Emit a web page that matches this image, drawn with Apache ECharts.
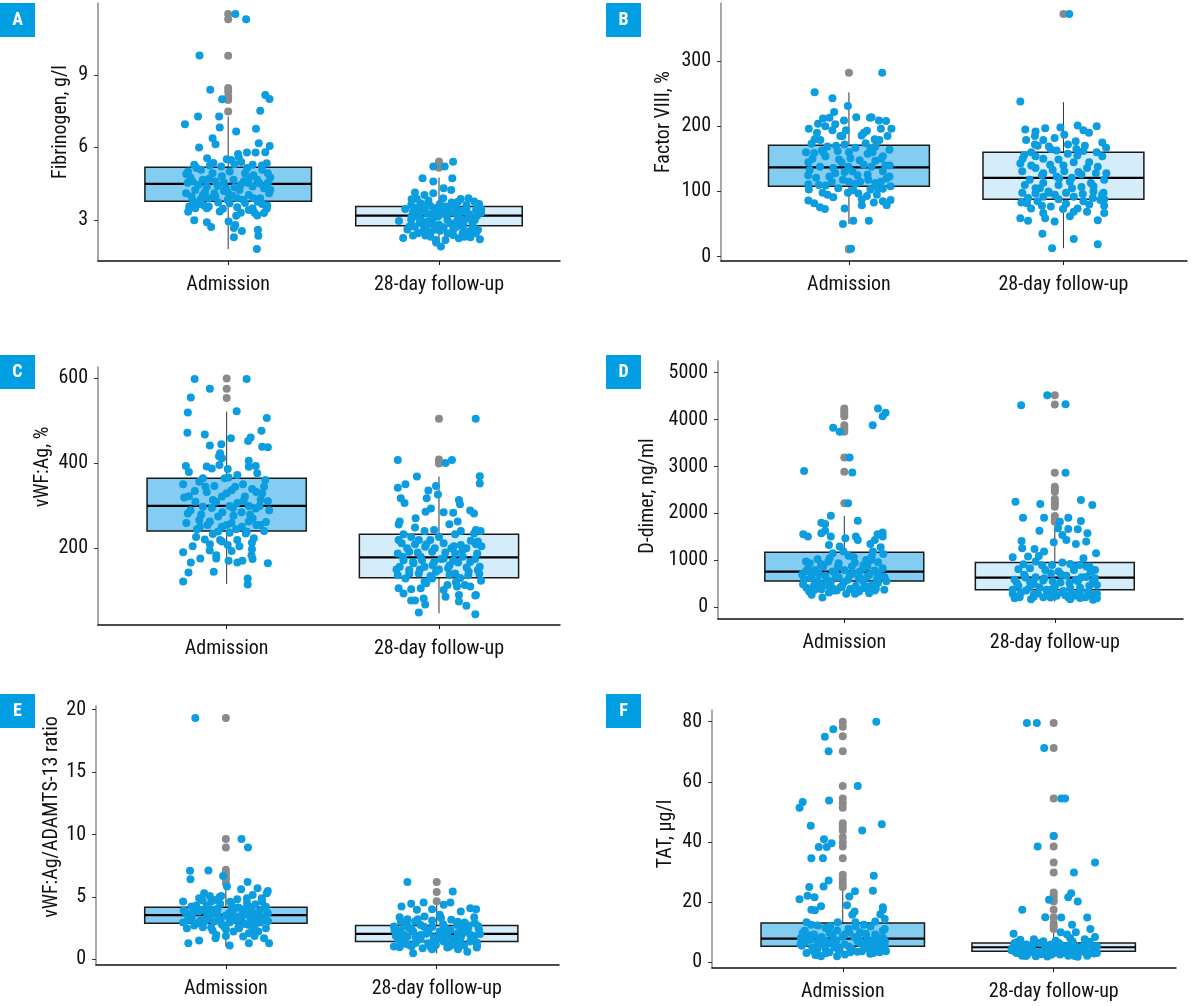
<!DOCTYPE html>
<html><head><meta charset="utf-8">
<script src="https://cdn.jsdelivr.net/npm/echarts@6/dist/echarts.min.js"></script>
<style>html,body{margin:0;padding:0;background:#fff}#c{width:1198px;height:1006px}</style>
</head><body><div id="c"></div>
<script>
// ---------- DATA ----------
const categories = ['Admission', '28-day follow-up'];
const panelTags = ['A','B','C','D','E','F'];
const axisNames = ['Fibrinogen, g/l','Factor VIII, %','vWF:Ag, %','D-dimer, ng/ml','vWF:Ag/ADAMTS-13 ratio','TAT, \u00b5g/l'];

const fibTicks = [3, 6, 9];
const f8Ticks = [0, 100, 200, 300];
const vwfTicks = [200, 400, 600];
const ddTicks = [0, 1000, 2000, 3000, 4000, 5000];
const ratioTicks = [0, 5, 10, 15, 20];
const tatTicks = [0, 20, 40, 60, 80];

// box stats: [lower whisker, Q1, median, Q3, upper whisker]
const fibAdmBox = [1.79, 3.77, 4.49, 5.18, 7.27];
const fibFupBox = [1.9, 2.76, 3.18, 3.55, 4.75];
const f8AdmBox = [50, 108, 137, 171, 252];
const f8FupBox = [13, 88, 121, 160, 237];
const vwfAdmBox = [116, 241, 300, 365, 522];
const vwfFupBox = [47, 131, 179, 233, 369];
const ddAdmBox = [234, 566, 765, 1175, 1947];
const ddFupBox = [127, 375, 637, 956, 1664];
const ratioAdmBox = [1.02, 2.89, 3.53, 4.17, 5.83];
const ratioFupBox = [0.48, 1.42, 2.03, 2.7, 4.63];
const tatAdmBox = [2.0, 5.3, 7.85, 13.1, 23.9];
const tatFupBox = [1.4, 3.7, 5.0, 6.4, 9.7];

// outliers (grey, drawn at the category centre)
const fibAdmOut = [11.51, 11.3, 9.79, 8.45, 8.31, 8.1, 7.96, 7.48];
const fibFupOut = [5.41, 5.3, 5.16];
const f8AdmOut = [282, 11, 12];
const f8FupOut = [372];
const vwfAdmOut = [600, 576, 554];
const vwfFupOut = [505, 409, 404, 400];
const ddAdmOut = [4234, 4184, 4128, 4071, 3880, 3809, 3738, 3193, 2889, 2216];
const ddFupOut = [4517, 4319, 2867, 2570, 2513, 2464, 2308, 2251, 2195, 2145, 1947, 1883, 1827];
const ratioAdmOut = [19.33, 9.63, 8.96, 7.17, 6.9, 6.6, 6.4, 6.1];
const ratioFupOut = [6.2, 5.4, 4.65];
const tatAdmOut = [80, 78.3, 75.2, 70.2, 58.6, 54.5, 52.9, 51.4, 46.2, 45.1, 43.8, 41.6, 39.8, 38.5, 34.6, 29.1, 27.7, 26.3, 25];
const tatFupOut = [79.6, 71.3, 54.5, 42, 38.5, 33.2, 29.9, 23.2, 22.1, 21.1, 20.2, 17.5, 15, 13.1, 12, 11.1];

// jittered individual values: [horizontal jitter (category units), value]
const fibAdmPts = [[0.034,11.51],[0.085,11.3],[-0.136,9.8],[-0.085,8.38],[-0.029,7.99],[0.176,8.17],[0.196,8.0],[0.152,7.51],[-0.143,7.28],[-0.043,7.28],[-0.205,6.96],[-0.04,6.82],[0.132,6.77],[0.038,6.66],[-0.074,6.38],[-0.06,6.13],[-0.138,5.99],[0.145,6.17],[0.197,6.06],[0.176,5.8],[0.089,5.79],[0.047,5.73],[0.13,5.79],[-0.007,5.51],[0.014,5.48],[0.062,5.39],[0.116,5.28],[0.183,5.34],[-0.161,5.28],[-0.087,5.25],[-0.033,5.21],[-0.199,4.9],[-0.129,5.07],[-0.074,4.93],[0.007,5.0],[0.08,4.93],[0.161,5.07],[0.188,4.93],[-0.192,4.54],[-0.12,4.66],[-0.06,4.59],[0.025,4.66],[0.094,4.54],[0.138,4.66],[0.188,4.54],[-0.156,4.24],[-0.101,4.38],[-0.011,4.31],[0.053,4.24],[0.116,4.38],[0.17,4.31],[-0.174,3.97],[-0.12,4.03],[-0.065,4.1],[-0.002,4.13],[0.043,3.9],[0.098,4.03],[0.152,3.9],[0.194,4.1],[-0.165,3.76],[-0.138,3.66],[-0.092,3.55],[-0.047,3.72],[0.007,3.69],[0.071,3.83],[0.116,3.48],[0.161,3.66],[-0.156,3.48],[-0.025,3.46],[0.043,3.52],[0.098,3.41],[0.183,3.46],[-0.19,3.34],[-0.101,3.48],[0.125,3.3],[0.17,3.28],[-0.161,2.99],[0.002,2.93],[0.034,2.79],[-0.101,2.9],[-0.081,2.71],[0.027,2.66],[0.065,2.54],[0.141,2.59],[0.143,2.34],[0.027,2.28],[0.136,1.8],[0.038,3.17],[0.138,3.18],[-0.002,3.83],[-0.092,3.9],[-0.18,4.75],[0.06,4.45],[-0.03,4.8],[0.12,4.85],[-0.11,4.15],[0.075,4.6],[-0.05,4.4],
  [-0.17,4.6],[-0.14,4.45],[-0.09,4.7],[-0.02,4.55],[0.03,4.35],[0.1,4.75],[0.15,4.5],[0.2,4.25],[-0.2,4.1],[-0.13,3.85],[-0.06,3.95],[0.02,4.0],[0.08,3.7],[0.14,3.75],[0.185,3.6],[-0.185,3.55],[-0.115,3.6],[-0.04,3.35],[0.06,3.3],[0.12,3.9],[-0.15,5.15],[-0.07,5.35],[0.03,5.3],[0.09,5.15],[0.16,5.25],[-0.1,5.55],[0.05,5.6],[-0.19,5.0],[0.2,4.75],[-0.02,4.2]];
const fibFupPts = [[0.067,5.4],[-0.027,5.21],[0.027,5.21],[0.063,4.72],[-0.078,4.72],[-0.027,4.59],[0.022,4.31],[0.058,4.24],[-0.114,4.13],[-0.069,4.03],[-0.027,4.1],[-0.105,3.86],[0.103,3.86],[0.167,3.76],[-0.132,3.62],[-0.087,3.69],[-0.042,3.58],[0.004,3.66],[0.049,3.55],[0.13,3.62],[0.19,3.66],[-0.123,3.34],[-0.078,3.41],[-0.024,3.34],[0.022,3.41],[0.076,3.28],[0.121,3.34],[0.176,3.41],[-0.132,3.0],[-0.091,3.07],[-0.051,2.93],[-0.005,3.14],[0.04,3.0],[0.085,2.93],[0.139,3.07],[0.181,3.17],[-0.114,2.72],[-0.069,2.66],[-0.024,2.59],[0.022,2.7],[0.067,2.59],[0.112,2.72],[0.158,2.59],[-0.123,2.35],[-0.065,2.35],[-0.014,2.17],[0.031,2.17],[0.094,2.24],[0.149,2.28],[0.194,2.2],[0.009,1.9],[-0.014,2.06],[-0.096,3.28],[0.013,3.25],[0.094,3.21],[0.158,2.89],[0.067,2.38],[0.112,2.45],[-0.141,2.72],[-0.033,2.86],[0.185,2.59],[-0.078,2.52],[-0.109,3.5],[-0.055,3.25],[-0.011,3.5],[0.036,3.2],[0.08,3.55],[0.145,3.22],[0.11,3.0],[0.055,2.85],[0.004,2.55],[-0.042,2.48],[-0.091,2.88],[0.2,3.45],[0.175,2.45],[0.14,2.52],[-0.13,3.15],[-0.065,3.6],[0.06,3.72],[0.1,3.38],
  [-0.16,3.45],[-0.12,3.15],[-0.07,3.35],[-0.03,3.05],[0.01,3.4],[0.05,3.3],[0.09,3.1],[0.13,3.45],[0.17,3.0],[0.2,3.3],[-0.19,2.95],[-0.15,2.6],[-0.1,2.45],[-0.06,2.75],[0.0,2.8],[0.04,2.45],[0.08,2.7],[0.12,2.3],[0.16,2.75],[-0.13,3.85],[-0.05,3.8],[0.02,3.9],[0.09,3.75],[0.14,3.9],[-0.17,2.25],[-0.04,2.3],[0.18,3.6],[-0.085,3.0],[0.115,2.85],[0.03,3.55]];

const f8AdmPts = [[0.155,282],[-0.16,252],[-0.077,243],[-0.005,231],[-0.069,222],[0.034,214],[0.098,213],[0.105,214],[-0.121,212],[-0.091,213],[-0.023,209],[0.14,209],[0.173,208],[-0.144,204],[-0.064,203],[-0.187,196],[0.198,196],[0.149,196],[-0.077,194],[-0.014,194],[0.084,193],[-0.149,190],[0.059,186],[-0.133,179],[0.142,179],[-0.174,173],[-0.02,172],[-0.1,169],[0.123,169],[0.03,167],[0.189,164],[-0.052,162],[-0.162,159],[0.087,158],[-0.109,154],[0.158,154],[0.007,151],[-0.189,145],[-0.034,145],[0.123,147],[0.069,141],[-0.135,138],[-0.073,136],[-0.183,133],[0.016,131],[0.158,131],[0.087,126],[-0.091,123],[-0.153,121],[0.189,123],[-0.028,118],[0.052,115],[-0.189,111],[0.123,113],[-0.109,109],[0.194,108],[0.158,104],[-0.187,103],[0.03,112],[-0.123,98],[-0.005,98],[0.044,97],[0.084,93],[-0.073,91],[-0.189,86],[0.194,87],[0.158,85],[0.116,83],[-0.162,82],[0.06,79],[0.176,79],[-0.135,76],[-0.112,73],[-0.02,74],[0.02,55],[0.093,55],[-0.028,50],[-0.046,149],[-0.064,128],[0.105,138],[-0.126,163],[-0.002,138],[0.149,115],[0.078,174],[0.01,12],[0.11,160],[-0.04,185],[0.17,140],
  [-0.17,150],[-0.12,160],[-0.06,170],[0.0,160],[0.05,148],[0.1,165],[0.15,150],[0.19,140],[-0.19,125],[-0.14,110],[-0.08,115],[-0.02,130],[0.04,125],[0.09,118],[0.135,105],[0.175,120],[-0.1,95],[-0.05,105],[0.02,102],[0.06,88],[0.13,95],[-0.16,180],[-0.03,185],[0.07,190],[0.12,180],[-0.11,200],[0.18,185],[-0.2,160],[0.0,115],[0.1,103]];
const f8FupPts = [[0.027,372],[-0.201,238],[-0.178,195],[-0.13,192],[-0.085,197],[-0.014,198],[0.066,201],[0.155,200],[0.093,194],[0.119,190],[0.004,187],[-0.133,185],[-0.041,182],[-0.174,179],[-0.094,179],[0.057,177],[0.181,175],[-0.133,172],[0.021,172],[-0.068,169],[0.199,167],[-0.032,163],[0.093,162],[0.155,160],[-0.183,156],[-0.13,154],[-0.094,150],[-0.023,149],[0.181,154],[0.048,145],[-0.201,143],[-0.062,141],[-0.13,136],[0.11,136],[-0.192,131],[0.004,131],[-0.094,128],[0.151,128],[0.084,126],[-0.032,123],[-0.157,118],[0.039,121],[0.19,118],[-0.094,113],[0.128,113],[-0.023,110],[0.084,107],[-0.192,98],[-0.13,97],[-0.068,98],[0.012,98],[0.187,98],[-0.094,92],[0.048,92],[0.137,90],[-0.165,90],[-0.023,88],[-0.196,83],[-0.121,85],[0.093,85],[0.172,87],[0.012,81],[-0.059,77],[0.19,78],[-0.151,74],[0.066,74],[-0.002,73],[0.048,69],[-0.094,67],[0.19,67],[0.11,69],[-0.201,59],[-0.165,55],[-0.085,59],[-0.041,54],[0.16,56],[-0.098,35],[0.048,27],[-0.053,13],[0.16,19],[0.06,165],[-0.11,105],[0.14,100],
  [-0.19,150],[-0.15,140],[-0.1,125],[-0.05,133],[0.0,140],[0.03,115],[0.07,130],[0.12,145],[0.16,138],[0.2,128],[-0.18,110],[-0.13,105],[-0.07,100],[-0.02,120],[0.04,105],[0.09,96],[0.14,108],[0.18,95],[-0.15,160],[-0.06,165],[0.02,158],[0.1,170],[-0.17,82],[-0.1,78],[0.03,62],[0.12,80],[0.19,88],[-0.04,95],[0.065,155],[-0.12,170]];

const vwfAdmPts = [[-0.151,599],[0.094,599],[-0.079,576],[-0.169,555],[-0.183,520],[0.047,523],[0.189,507],[0.164,477],[-0.185,472],[-0.103,468],[0.02,459],[0.113,461],[0.101,453],[-0.079,442],[-0.025,445],[0.167,439],[0.194,438],[-0.031,424],[-0.036,417],[-0.022,412],[0.104,406],[0.137,394],[-0.192,394],[-0.094,393],[-0.034,396],[0.005,387],[0.104,392],[-0.178,380],[-0.07,388],[0.05,373],[0.144,377],[0.182,361],[-0.129,357],[-0.009,365],[0.009,367],[-0.205,351],[0.077,351],[-0.112,365],[-0.058,347],[0.176,345],[-0.094,333],[0.023,337],[0.14,333],[-0.178,323],[-0.022,322],[0.086,322],[0.167,329],[-0.147,310],[-0.065,314],[0.05,307],[0.194,311],[-0.183,282],[-0.112,298],[0.014,300],[0.104,300],[0.137,294],[-0.129,267],[-0.04,275],[0.032,277],[0.122,271],[-0.079,263],[0.023,260],[0.104,263],[-0.126,251],[-0.022,251],[0.072,251],[0.158,255],[0.176,241],[-0.144,227],[-0.065,234],[0.014,237],[0.095,239],[0.128,224],[-0.031,220],[-0.103,221],[0.05,220],[-0.079,210],[0.005,208],[0.119,213],[-0.022,216],[-0.205,191],[0.023,194],[0.119,198],[-0.049,184],[-0.124,176],[-0.049,176],[0.117,184],[0.009,171],[0.05,167],[0.074,171],[0.122,175],[-0.169,167],[0.194,165],[-0.18,143],[-0.061,145],[-0.205,122],[0.099,129],[0.099,115],
  [-0.2,320],[-0.15,335],[-0.1,345],[-0.05,310],[0.0,330],[0.04,345],[0.08,312],[0.12,340],[0.16,315],[0.2,290],[-0.17,290],[-0.12,280],[-0.07,295],[-0.02,285],[0.03,295],[0.07,285],[0.11,280],[0.155,300],[-0.19,260],[-0.14,245],[-0.09,255],[-0.04,240],[0.0,255],[0.045,245],[0.09,235],[0.14,255],[0.185,262],[-0.16,205],[-0.08,195],[0.06,205]];
const vwfFupPts = [[0.173,505],[-0.194,408],[0.031,401],[0.061,408],[-0.104,369],[0.192,370],[0.192,353],[-0.158,351],[-0.194,343],[-0.014,347],[-0.05,336],[-0.18,318],[-0.162,307],[-0.005,327],[-0.058,318],[0.094,314],[0.099,304],[-0.038,294],[-0.063,286],[0.022,285],[0.067,284],[0.147,289],[0.165,282],[-0.11,271],[-0.185,263],[-0.19,256],[0.088,263],[0.049,257],[-0.113,249],[-0.068,241],[-0.023,243],[0.103,241],[0.196,241],[0.174,243],[-0.167,233],[-0.131,227],[0.076,233],[0.165,235],[0.0,227],[-0.095,220],[-0.041,220],[-0.176,212],[-0.113,210],[0.022,212],[0.103,208],[0.174,210],[0.183,216],[-0.065,204],[0.058,200],[0.129,200],[-0.194,188],[-0.14,192],[-0.032,192],[0.076,188],[0.18,188],[-0.086,180],[0.022,176],[0.112,180],[-0.167,172],[-0.122,168],[-0.023,168],[0.067,171],[0.147,168],[-0.185,157],[-0.068,157],[0.043,153],[0.192,157],[-0.14,149],[-0.014,145],[0.183,149],[-0.194,137],[-0.095,141],[0.076,141],[0.138,137],[-0.158,129],[-0.032,129],[0.198,124],[-0.068,122],[0.04,114],[0.085,110],[0.121,114],[-0.19,106],[-0.131,104],[-0.086,106],[0.147,110],[-0.167,94],[0.022,102],[0.174,90],[0.094,90],[0.031,86],[-0.131,77],[-0.113,77],[-0.072,82],[0.094,75],[0.129,65],[-0.065,68],[0.171,89],[-0.095,49],[0.171,45],
  [-0.19,220],[-0.15,200],[-0.1,190],[-0.06,210],[-0.02,200],[0.03,190],[0.07,205],[0.11,195],[0.15,218],[0.2,205],[-0.17,180],[-0.12,165],[-0.08,172],[-0.03,160],[0.01,175],[0.05,160],[0.09,167],[0.13,155],[0.17,175],[-0.2,150],[-0.14,140],[-0.09,150],[-0.04,135],[0.0,150],[0.05,138],[0.1,130],[0.14,145],[0.19,140],[-0.06,118],[0.08,120]];

const ddAdmPts = [[0.16,4234],[0.196,4142],[0.182,4071],[0.135,3880],[-0.053,3823],[-0.022,3738],[0.025,3193],[-0.191,2903],[0.038,2874],[0.018,2216],[-0.064,1954],[0.064,1848],[-0.109,1805],[-0.091,1777],[-0.195,1558],[-0.173,1508],[-0.109,1579],[-0.091,1635],[-0.064,1508],[0.005,1473],[0.055,1508],[0.064,1437],[0.158,1558],[0.182,1593],[0.182,1508],[0.145,1437],[0.124,1352],[-0.073,1331],[-0.022,1296],[0.173,1281],[0.136,1189],[0.185,1140],[-0.055,1154],[-0.004,1189],[-0.127,1027],[-0.182,977],[-0.164,942],[0.045,1069],[0.104,1012],[0.127,1012],[-0.076,977],[-0.027,942],[-0.1,871],[0.036,871],[0.091,906],[0.182,835],[-0.182,779],[-0.136,800],[-0.055,765],[0.0,800],[0.073,765],[0.145,786],[-0.155,694],[-0.091,673],[-0.027,644],[0.027,694],[0.109,658],[0.191,644],[-0.191,602],[-0.127,573],[-0.064,552],[0.018,588],[0.091,552],[0.155,588],[-0.196,496],[-0.145,460],[-0.082,481],[-0.018,432],[0.055,460],[0.131,481],[0.182,658],[-0.109,389],[-0.036,361],[0.027,389],[0.091,411],[-0.167,340],[-0.073,319],[0.009,290],[0.051,290],[0.118,304],[0.145,361],[-0.104,212],[-0.155,269],[-0.055,411],[0.07,620],[-0.04,720],[0.11,880],[-0.12,520],[0.16,700],
  [-0.2,700],[-0.16,620],[-0.12,720],[-0.08,580],[-0.04,660],[0.0,540],[0.04,720],[0.08,600],[0.12,700],[0.16,520],[0.2,560],[-0.18,420],[-0.14,380],[-0.1,480],[-0.05,360],[-0.01,460],[0.03,400],[0.07,340],[0.11,440],[0.15,400],[0.19,380],[-0.17,860],[-0.11,920],[-0.03,880],[0.05,950],[0.09,830],[0.16,960],[-0.07,1050],[0.02,1100],[0.13,1080]];
const ddFupPts = [[-0.036,4517],[-0.16,4305],[0.051,4326],[0.051,2867],[0.124,2287],[-0.187,2251],[-0.069,2202],[0.178,2181],[-0.151,1912],[-0.051,1912],[0.064,1912],[0.124,1841],[0.024,1827],[-0.073,1635],[0.015,1685],[0.064,1671],[0.109,1664],[0.155,1579],[0.036,1543],[0.055,1437],[-0.158,1416],[-0.005,1388],[0.149,1402],[0.1,1352],[-0.155,1260],[-0.096,1246],[-0.051,1189],[0.196,1154],[-0.2,1069],[-0.127,1083],[-0.076,1097],[0.136,1048],[0.036,956],[-0.149,920],[-0.091,977],[-0.013,906],[0.073,927],[0.118,906],[0.164,871],[-0.173,814],[-0.118,835],[-0.045,800],[0.018,765],[0.091,800],[0.191,800],[-0.145,694],[-0.091,644],[-0.018,729],[0.055,673],[0.127,644],[-0.191,588],[-0.118,552],[-0.055,573],[0.027,531],[0.1,588],[0.182,552],[-0.173,460],[-0.073,432],[0.0,446],[0.073,411],[0.164,460],[0.2,481],[-0.136,361],[-0.036,340],[0.036,319],[0.124,361],[-0.2,290],[-0.1,269],[0.091,248],[0.173,269],[-0.167,219],[-0.055,219],[0.009,248],[0.064,219],[0.2,198],[-0.191,198],[-0.113,177],[0.145,219],[0.182,163],[0.073,177],[0.15,870],[-0.02,380],[0.11,300],
  [-0.2,380],[-0.16,320],[-0.12,420],[-0.08,300],[-0.04,380],[0.0,300],[0.04,350],[0.08,280],[0.12,420],[0.16,330],[0.2,300],[-0.18,520],[-0.14,640],[-0.1,500],[-0.05,620],[-0.01,560],[0.03,700],[0.07,520],[0.11,560],[0.15,650],[0.19,620],[-0.17,240],[-0.1,230],[-0.02,210],[0.05,260],[0.12,200],[0.18,240],[-0.06,900],[0.09,880],[0.17,760]];

const ratioAdmPts = [[-0.145,19.33],[0.074,9.63],[0.105,8.96],[-0.17,7.09],[-0.083,7.11],[-0.168,6.42],[-0.013,6.68],[0.103,6.2],[0.005,5.83],[0.072,5.61],[0.15,5.7],[0.199,5.48],[0.194,5.29],[-0.103,5.29],[-0.076,5.08],[-0.022,5.08],[-0.127,4.89],[0.127,5.16],[0.1,4.89],[0.172,4.63],[-0.203,4.63],[-0.054,4.76],[0.054,4.81],[-0.163,4.22],[-0.091,4.28],[-0.027,4.44],[0.027,4.36],[0.109,4.22],[0.181,4.09],[-0.19,3.69],[-0.127,3.82],[-0.063,3.96],[0.018,3.74],[0.082,3.82],[0.145,3.69],[0.199,3.69],[-0.163,3.29],[-0.091,3.37],[-0.027,3.21],[0.045,3.37],[0.118,3.21],[0.181,3.37],[-0.203,2.94],[-0.136,2.89],[-0.054,3.02],[0.018,2.94],[0.091,2.83],[0.163,2.94],[-0.185,2.49],[-0.109,2.57],[-0.009,2.62],[0.063,2.49],[0.136,2.62],[0.19,2.49],[-0.063,2.3],[0.036,2.22],[0.109,2.09],[0.154,2.22],[-0.045,1.95],[0.0,1.87],[0.082,1.82],[0.136,1.87],[0.181,1.68],[-0.049,1.68],[-0.127,1.5],[-0.178,1.28],[0.018,1.1],[0.109,1.28],[0.205,1.28],[-0.091,3.82],[0.036,3.96],[-0.083,3.56],[0.072,3.29],[-0.15,4.05],[0.12,3.95],[0.06,4.15],[-0.04,3.6],[0.16,3.45],[-0.12,3.1],[0.01,3.45],[0.09,3.6],[-0.07,4.6],[0.02,4.6],[-0.16,3.55],[0.14,4.4],
  [-0.2,3.9],[-0.16,3.6],[-0.12,3.95],[-0.08,3.3],[-0.04,4.05],[0.0,3.5],[0.04,3.15],[0.08,4.0],[0.12,3.55],[0.16,3.85],[0.2,3.05],[-0.18,3.15],[-0.14,4.3],[-0.1,3.05],[-0.06,3.7],[-0.02,2.8],[0.03,4.2],[0.07,3.45],[0.11,2.75],[0.15,3.15],[0.19,4.2],[-0.15,2.7],[-0.07,2.55],[0.0,2.4],[0.06,2.6],[0.13,2.35],[-0.11,4.7],[0.1,4.5],[-0.03,5.0],[0.17,4.9]];
const ratioFupPts = [[-0.139,6.2],[0.076,5.43],[-0.062,4.55],[-0.121,4.44],[0.065,4.55],[0.033,4.36],[-0.167,4.22],[-0.094,3.96],[-0.022,4.01],[0.159,4.09],[0.187,4.01],[0.114,3.82],[0.014,3.56],[-0.058,3.42],[-0.176,3.37],[-0.139,3.21],[0.178,3.37],[-0.103,3.02],[-0.022,3.1],[0.069,3.16],[0.132,2.94],[-0.203,2.62],[-0.149,2.67],[-0.076,2.75],[0.033,2.67],[0.096,2.75],[0.196,2.67],[-0.176,2.3],[-0.112,2.22],[-0.04,2.35],[0.014,2.22],[0.065,2.35],[0.141,2.3],[0.205,2.03],[-0.194,1.87],[-0.139,1.82],[-0.076,1.95],[-0.013,1.76],[0.051,1.87],[0.114,1.76],[0.178,1.87],[-0.167,1.42],[-0.094,1.5],[-0.04,1.28],[0.033,1.42],[0.096,1.28],[0.159,1.42],[-0.203,1.02],[-0.176,0.96],[-0.067,0.88],[-0.022,0.8],[0.06,1.02],[0.101,0.8],[0.145,0.61],[0.192,1.1],[-0.112,0.48],[-0.13,1.15],[-0.004,1.15],[0.123,2.09],[-0.13,2.49],[-0.076,1.6],[0.078,1.55],[-0.05,2.05],[0.04,2.5],[0.15,2.5],[-0.16,2.0],[0.1,2.1],[-0.02,2.6],[0.17,1.6],[-0.1,1.75],[0.02,1.95],[0.07,1.15],[0.19,0.95],[-0.15,1.25],
  [-0.2,2.3],[-0.16,2.0],[-0.12,2.45],[-0.08,1.7],[-0.04,2.2],[0.0,1.6],[0.04,2.0],[0.08,1.65],[0.12,2.5],[0.16,1.95],[0.2,2.4],[-0.18,1.55],[-0.14,2.75],[-0.1,1.3],[-0.06,2.6],[-0.02,1.35],[0.03,2.8],[0.07,1.3],[0.11,1.6],[0.15,2.7],[0.19,1.35],[-0.17,3.0],[-0.09,3.2],[0.02,3.3],[0.1,3.0],[0.18,2.9],[-0.12,1.05],[-0.03,1.0],[0.13,1.1],[0.05,0.95]];

const tatAdmPts = [[0.159,80],[-0.045,77.5],[-0.085,75],[-0.067,70.2],[0.071,58.6],[-0.065,53.8],[-0.19,53.3],[-0.205,51.4],[0.185,45.9],[-0.152,45.4],[0.092,43.8],[-0.089,40.9],[-0.053,39.6],[-0.076,38.3],[-0.114,38.3],[-0.149,34.6],[-0.094,34.6],[0.147,28.8],[-0.067,27.2],[-0.091,25.2],[-0.159,25],[0.058,23.6],[0.143,23.8],[-0.167,22.1],[-0.134,21.6],[-0.205,21],[0.031,21.9],[-0.103,18.6],[0.02,19],[0.19,18.3],[-0.149,17.5],[-0.132,17.3],[0.19,17.5],[0.056,16.9],[0.045,15.8],[0.178,16],[0.199,14.4],[-0.172,13.3],[-0.024,13.3],[0.06,13.3],[0.154,13.6],[-0.118,12.2],[0.1,12.5],[0.132,11.9],[-0.19,9.7],[-0.082,11.4],[-0.027,10.6],[0.027,11.1],[0.199,11.1],[-0.136,9.2],[-0.063,9.7],[0.009,9.2],[0.082,10],[0.154,9.2],[-0.199,8.1],[-0.154,7.5],[-0.1,8.4],[-0.042,7.7],[0.054,8.4],[0.118,7.7],[0.19,8.1],[-0.181,6.4],[-0.118,5.9],[-0.063,6.4],[0.009,5.9],[0.082,6.4],[0.145,5.9],[0.199,5.3],[-0.194,5.5],[-0.145,4.8],[-0.082,4.4],[-0.018,4.8],[0.045,4.2],[0.109,4.8],[0.172,4.4],[0.205,3.7],[-0.172,3.1],[-0.118,2.5],[-0.103,2],[-0.027,2],[-0.063,3.3],[0.036,3.3],[0.091,3.7],[0.145,3.1],[0.118,5.5],[-0.03,7.2],[0.07,6.9],[-0.12,6.8],[0.13,7.0],[0.03,5.2],[-0.17,7.2],[0.17,6.6],
  [-0.2,6.0],[-0.16,9.0],[-0.12,4.5],[-0.08,7.0],[-0.04,5.0],[0.0,8.5],[0.04,4.0],[0.08,7.5],[0.12,5.0],[0.16,8.5],[0.2,7.0],[-0.18,10.5],[-0.14,3.8],[-0.1,6.0],[-0.06,12.0],[-0.02,4.0],[0.03,10.0],[0.07,3.5],[0.11,9.5],[0.15,4.5],[0.19,10.5],[-0.15,12.5],[-0.08,3.0],[0.01,2.6],[0.06,12.0],[0.13,2.8],[-0.13,2.4],[0.095,6.0],[-0.05,9.0],[0.175,3.3]];
const tatFupPts = [[-0.127,79.6],[-0.08,79.6],[-0.045,71.3],[0.036,54.5],[0.054,54.5],[0.0,42],[-0.076,38.5],[0.196,33.2],[0.096,29.9],[0.083,23],[0.069,21.6],[-0.022,20.8],[0.114,20.2],[-0.149,17.5],[-0.04,15],[0.036,14.9],[0.159,14.9],[0.087,12.5],[0.174,11.1],[0.033,10],[0.105,10],[0.063,9.2],[-0.19,9.5],[-0.158,7.5],[-0.094,7.7],[-0.049,7],[0.078,8.1],[0.147,7.7],[0.196,8.4],[-0.185,6.4],[-0.13,5.9],[-0.067,6.4],[0.024,6.4],[0.096,5.9],[0.168,6.4],[0.205,5.3],[-0.194,4.8],[-0.158,4.4],[-0.103,4.8],[-0.04,4.2],[0.005,4.8],[0.051,4.2],[0.123,4.8],[0.187,4.2],[-0.176,3.1],[-0.121,2.9],[-0.067,3.3],[-0.013,2.5],[0.042,3.1],[0.096,2.9],[0.15,3.3],[0.205,3.1],[-0.149,2.2],[-0.085,2],[-0.031,2.2],[0.069,2.2],[0.114,1.8],[0.159,2.2],[-0.185,3.7],[-0.049,3.7],[0.087,4],[0.141,5.3],[-0.121,5.5],[-0.013,5.9],[-0.167,5.5],[-0.11,3.6],[0.02,3.6],[0.13,3.6],[0.18,5.7],[-0.02,2.9],[0.06,5.1],[-0.14,4.1],
  [-0.2,4.0],[-0.16,3.0],[-0.12,4.3],[-0.08,3.3],[-0.04,5.0],[0.0,3.0],[0.04,5.6],[0.08,3.4],[0.12,4.2],[0.16,3.1],[0.2,4.6],[-0.18,5.2],[-0.14,2.6],[-0.1,6.0],[-0.06,2.7],[-0.02,4.4],[0.03,2.6],[0.07,5.6],[0.11,2.7],[0.15,5.5],[0.19,2.9],[-0.17,6.8],[-0.09,7.0],[0.01,7.2],[0.09,6.9],[0.17,6.8],[-0.13,2.1],[-0.03,1.9],[0.1,2.1],[0.05,3.9]];

// ---------- LAYOUT (pixel positions / styling only) ----------
const layout = [
  {left:98,  top:3,   width:462, height:258, xmin:0.3825, xmax:2.574, ymin:1.3,   ymax:11.97, boxW:0.79, nameX:61,  nameY:122, tagX:0,   tagY:3},
  {left:721, top:3,   width:466, height:258, xmin:0.4036, xmax:2.576, ymin:-6.6,  ymax:389,   boxW:0.75, nameX:664, nameY:122, tagX:606, tagY:3},
  {left:98,  top:367, width:462, height:258, xmin:0.394,  xmax:2.570, ymin:19.6,  ymax:627,   boxW:0.75, nameX:43,  nameY:467, tagX:0,   tagY:355},
  {left:718, top:361, width:465, height:258, xmin:0.40,   xmax:2.609, ymin:-245,  ymax:5245,  boxW:0.755,nameX:648, nameY:496, tagX:606, tagY:355},
  {left:96,  top:706, width:463, height:259, xmin:0.384,  xmax:2.58,  ymin:-0.46, ymax:20.3,  boxW:0.77, nameX:52,  nameY:817, tagX:0,   tagY:694},
  {left:712, top:710, width:464, height:258, xmin:0.38,   xmax:2.58,  ymin:-1.9,  ymax:83.9,  boxW:0.775,nameX:666, nameY:834, tagX:606, tagY:694}
];

const panels = [
  {ticks:fibTicks,   box:[fibAdmBox, fibFupBox],     out:[fibAdmOut, fibFupOut],     pts:[fibAdmPts, fibFupPts]},
  {ticks:f8Ticks,    box:[f8AdmBox, f8FupBox],       out:[f8AdmOut, f8FupOut],       pts:[f8AdmPts, f8FupPts]},
  {ticks:vwfTicks,   box:[vwfAdmBox, vwfFupBox],     out:[vwfAdmOut, vwfFupOut],     pts:[vwfAdmPts, vwfFupPts]},
  {ticks:ddTicks,    box:[ddAdmBox, ddFupBox],       out:[ddAdmOut, ddFupOut],       pts:[ddAdmPts, ddFupPts]},
  {ticks:ratioTicks, box:[ratioAdmBox, ratioFupBox], out:[ratioAdmOut, ratioFupOut], pts:[ratioAdmPts, ratioFupPts]},
  {ticks:tatTicks,   box:[tatAdmBox, tatFupBox],     out:[tatAdmOut, tatFupOut],     pts:[tatAdmPts, tatFupPts]}
];

const FONT = "'Liberation Sans Narrow','Arial Narrow','Roboto Condensed',Roboto,sans-serif";
const FS = 20;
const boxFills = ['#82cdf1', '#d5ecfb'];
const pointColor = '#0b9de0';
const outColor = '#8a8a8a';

const grid = [], xAxis = [], yAxis = [], series = [], graphic = [];

panels.forEach((p, i) => {
  const L = layout[i];
  grid.push({left:L.left, top:L.top, width:L.width, height:L.height, containLabel:false});
  xAxis.push({
    type:'value', gridIndex:i, min:L.xmin, max:L.xmax, splitLine:{show:false},
    axisLine:{show:true, onZero:false, lineStyle:{color:'#111', width:1.5}},
    axisTick:{show:true, customValues:[1,2], length:4, lineStyle:{color:'#111', width:1}},
    axisLabel:{show:true, customValues:[1,2], margin:14, color:'#111', fontFamily:FONT, fontSize:FS,
      formatter: v => categories[Math.round(v) - 1]}
  });
  yAxis.push({
    type:'value', gridIndex:i, min:L.ymin, max:L.ymax, splitLine:{show:false},
    axisLine:{show:true, onZero:false, lineStyle:{color:'#8c8c8c', width:1.5}},
    axisTick:{show:true, customValues:p.ticks, length:4, lineStyle:{color:'#333', width:1}},
    axisLabel:{show:true, customValues:p.ticks, margin:10, color:'#111', fontFamily:FONT, fontSize:FS,
      formatter: v => String(v)}
  });
  const bw = L.boxW;
  series.push({
    type:'custom', xAxisIndex:i, yAxisIndex:i, z:2, silent:true,
    data: p.box.map((b, k) => [k + 1].concat(b)),
    renderItem: (params, api) => {
      const x = api.value(0), lo = api.value(1), q1 = api.value(2), med = api.value(3), q3 = api.value(4), hi = api.value(5);
      const tl = api.coord([x - bw / 2, q3]), br = api.coord([x + bw / 2, q1]);
      const m1 = api.coord([x - bw / 2, med]), m2 = api.coord([x + bw / 2, med]);
      const pLo = api.coord([x, lo]), pQ1 = api.coord([x, q1]), pQ3 = api.coord([x, q3]), pHi = api.coord([x, hi]);
      return {type:'group', children:[
        {type:'line', shape:{x1:pHi[0], y1:pHi[1], x2:pQ3[0], y2:pQ3[1]}, style:{stroke:'#333', lineWidth:1}},
        {type:'line', shape:{x1:pLo[0], y1:pLo[1], x2:pQ1[0], y2:pQ1[1]}, style:{stroke:'#333', lineWidth:1}},
        {type:'rect', shape:{x:tl[0], y:tl[1], width:br[0] - tl[0], height:br[1] - tl[1]},
          style:{fill:boxFills[params.dataIndex], stroke:'#1a1a1a', lineWidth:1.5}},
        {type:'line', shape:{x1:m1[0], y1:m1[1], x2:m2[0], y2:m2[1]}, style:{stroke:'#000', lineWidth:2.2}}
      ]};
    }
  });
  p.out.forEach((arr, k) => {
    series.push({type:'scatter', xAxisIndex:i, yAxisIndex:i, z:3, silent:true, symbolSize:8,
      itemStyle:{color:outColor, opacity:1}, data: arr.map(v => [k + 1, v])});
  });
  p.pts.forEach((arr, k) => {
    series.push({type:'scatter', xAxisIndex:i, yAxisIndex:i, z:4, silent:true, symbolSize:8,
      itemStyle:{color:pointColor, opacity:1}, data: arr.map(d => [k + 1 + d[0], d[1]])});
  });
  graphic.push({type:'rect', left:L.tagX, top:L.tagY, shape:{width:35, height:34}, style:{fill:'#009fe3'}});
  graphic.push({type:'text', x:L.tagX + 17.5, y:L.tagY + 17, style:{text:panelTags[i], fill:'#fff',
    font:'bold 18px ' + FONT, textAlign:'center', textVerticalAlign:'middle'}});
  graphic.push({type:'text', x:L.nameX, y:L.nameY, rotation:Math.PI / 2, style:{text:axisNames[i], fill:'#111',
    font:FS + 'px ' + FONT, textAlign:'center', textVerticalAlign:'middle'}});
});

const chart = echarts.init(document.getElementById('c'), null, {renderer:'canvas'});
chart.setOption({animation:false, backgroundColor:'#fff', grid, xAxis, yAxis, series, graphic});
</script></body></html>
